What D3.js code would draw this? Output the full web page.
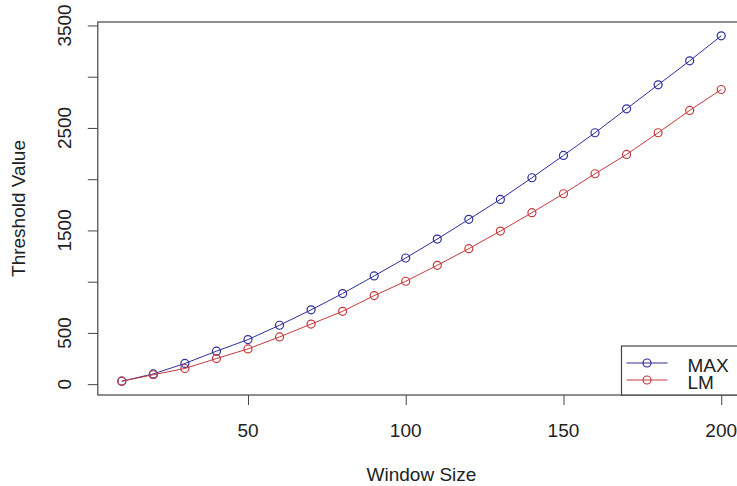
<!DOCTYPE html>
<html>
<head>
<meta charset="utf-8">
<script src="https://cdn.jsdelivr.net/npm/d3@7"></script>
<style>
  body { margin: 0; background: #fff; }
  text { font-family: "Liberation Sans", Arial, sans-serif; fill: #222; }
</style>
</head>
<body>
<div id="chart"></div>
<script>
// window sizes on the x axis
var windowSizes = [10, 20, 30, 40, 50, 60, 70, 80, 90, 100,
                   110, 120, 130, 140, 150, 160, 170, 180, 190, 200]
// threshold values
var maxValues = [29, 100, 202, 322, 435, 575, 725, 884, 1056, 1231,
                 1416, 1608, 1803, 2014, 2232, 2453, 2687, 2921, 3155, 3399]
var lmValues = [29, 92, 153, 250, 344, 461, 586, 711, 864, 1004,
                1160, 1322, 1494, 1673, 1858, 2053, 2242, 2453, 2671, 2875]
var xTicks = [50, 100, 150, 200]
var yTicks = [0, 500, 1000, 1500, 2000, 2500, 3000, 3500]
var yLabels = [0, 500, 1500, 2500, 3500]
var seriesNames = ["MAX", "LM"]
var seriesColors = ["#2e2e9c", "#c43a3e"]

var width = 737
var height = 486
var plotLeft = 97.8, plotRight = 745.2, plotTop = 22, plotBottom = 395

var svg = d3.select("#chart")
  .append("svg")
    .attr("width", width)
    .attr("height", height)

// R style: pad data range by 4% on each side
function padded(ext) {
  var d = (ext[1] - ext[0]) * 0.04
  return [ext[0] - d, ext[1] + d]
}

var x = d3.scaleLinear()
  .domain(padded(d3.extent(windowSizes)))
  .range([plotLeft, plotRight])

var allY = maxValues.concat(lmValues)
var y = d3.scaleLinear()
  .domain(padded(d3.extent(allY)))
  .range([plotBottom, plotTop])

// box around plot region
svg.append("rect")
  .attr("x", plotLeft)
  .attr("y", plotTop)
  .attr("width", plotRight - plotLeft)
  .attr("height", plotBottom - plotTop)
  .style("fill", "none")
  .attr("stroke", "#444")
  .attr("stroke-width", 1.2)

// y axis ticks
svg.append("g")
  .attr("transform", "translate(" + plotLeft + ",0)")
  .call(d3.axisLeft(y).tickValues(yTicks).tickSize(10).tickSizeOuter(0).tickFormat(""))
  .call(function(g){ g.select(".domain").remove() })
  .selectAll("line").attr("stroke", "#444")

// y tick labels (rotated, R style)
svg.selectAll("ylab")
  .data(yLabels)
  .enter()
  .append("text")
    .attr("transform", function(d){ return "translate(71," + y(d) + ") rotate(-90)" })
    .attr("text-anchor", "middle")
    .style("font-size", "19px")
    .text(function(d){ return d })

// x axis ticks
svg.append("g")
  .attr("transform", "translate(0," + plotBottom + ")")
  .call(d3.axisBottom(x).tickValues(xTicks).tickSize(10).tickSizeOuter(0).tickFormat(""))
  .call(function(g){ g.select(".domain").remove() })
  .selectAll("line").attr("stroke", "#444")

svg.selectAll("xlab")
  .data(xTicks)
  .enter()
  .append("text")
    .attr("x", function(d){ return x(d) })
    .attr("y", 437)
    .attr("text-anchor", "middle")
    .style("font-size", "19px")
    .text(function(d){ return d })

// axis titles
svg.append("text")
  .attr("x", (plotLeft + plotRight) / 2)
  .attr("y", 481)
  .attr("text-anchor", "middle")
  .style("font-size", "19px")
  .text("Window Size")

svg.append("text")
  .attr("transform", "translate(25," + (plotTop + plotBottom) / 2 + ") rotate(-90)")
  .attr("text-anchor", "middle")
  .style("font-size", "19px")
  .text("Threshold Value")

// lines and points
var series = [maxValues, lmValues]
var line = d3.line()
  .x(function(d, i){ return x(windowSizes[i]) })
  .y(function(d){ return y(d) })

series.forEach(function(vals, s) {
  svg.append("path")
    .datum(vals)
    .attr("d", line)
    .style("fill", "none")
    .attr("stroke", seriesColors[s])
    .attr("stroke-width", 1)

  svg.selectAll("pt" + s)
    .data(vals)
    .enter()
    .append("circle")
      .attr("cx", function(d, i){ return x(windowSizes[i]) })
      .attr("cy", function(d){ return y(d) })
      .attr("r", 4)
      .style("fill", "none")
      .attr("stroke", seriesColors[s])
      .attr("stroke-width", 1.2)
})

// legend (bottom right)
var legX = 621.5, legY = 346
svg.append("rect")
  .attr("x", legX)
  .attr("y", legY)
  .attr("width", 140)
  .attr("height", plotBottom - legY)
  .style("fill", "white")
  .attr("stroke", "#444")
  .attr("stroke-width", 1.2)

var legRows = [363, 380]
seriesNames.forEach(function(name, s) {
  var ly = legRows[s]
  svg.append("line")
    .attr("x1", legX + 5).attr("x2", legX + 46)
    .attr("y1", ly).attr("y2", ly)
    .attr("stroke", seriesColors[s])
  svg.append("circle")
    .attr("cx", legX + 25.5).attr("cy", ly).attr("r", 4)
    .style("fill", "none")
    .attr("stroke", seriesColors[s])
    .attr("stroke-width", 1.2)
  svg.append("text")
    .attr("x", legX + 66)
    .attr("y", ly + 8.5)
    .style("font-size", "19px")
    .text(name)
})
</script>
</body>
</html>
